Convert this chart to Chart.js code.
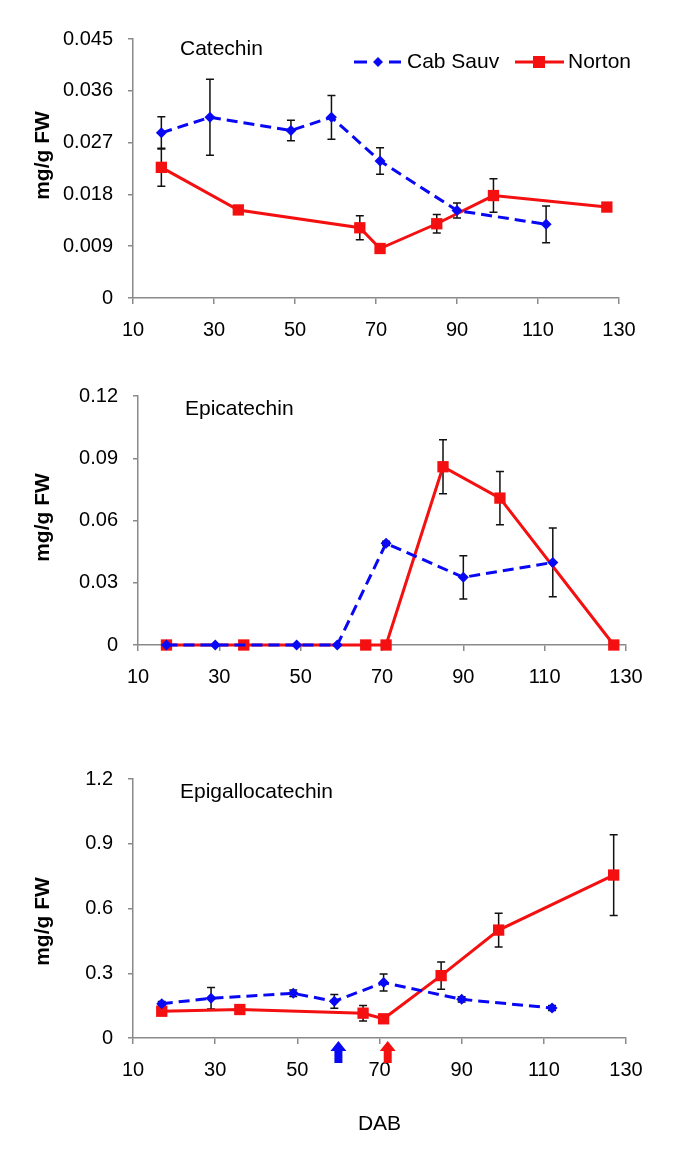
<!DOCTYPE html>
<html>
<head>
<meta charset="utf-8">
<script src="https://cdn.jsdelivr.net/npm/chart.js@4.4.0/dist/chart.umd.min.js"></script>
<style>
  body { margin: 0; background: #fff; }
  canvas { position: absolute; left: 0; }
</style>
</head>
<body>
<canvas id="c1" width="685" height="360" style="top:0px"></canvas>
<canvas id="c2" width="685" height="360" style="top:360px"></canvas>
<canvas id="c3" width="685" height="438" style="top:720px"></canvas>
<script>
// sampling days (days after bloom)
const dabCab = [17, 29, 49, 59, 71, 90, 112];
const dabNorton = [17, 36, 66, 71, 85, 99, 127];
const xTicks = [10, 30, 50, 70, 90, 110, 130];

// catechin, mg/g FW
const catCab = [0.0287, 0.0314, 0.0291, 0.0314, 0.0238, 0.0152, 0.0128];
const catCabErr = [0.0028, 0.0066, 0.0018, 0.0038, 0.0023, 0.0013, 0.0032];
const catNorton = [0.0227, 0.0153, 0.0122, 0.0086, 0.0129, 0.0178, 0.0158];
const catNortonErr = [0.0033, 0.0006, 0.0021, 0.0006, 0.0016, 0.0029, 0.0007];
const catTicks = [0, 0.009, 0.018, 0.027, 0.036, 0.045];

// epicatechin
const epiCab = [0, 0, 0, 0, 0.049, 0.0326, 0.0398];
const epiCabErr = [0, 0, 0, 0, 0.001, 0.0104, 0.0166];
const epiNorton = [0, 0, 0, 0, 0.0859, 0.0708, 0];
const epiNortonErr = [0, 0, 0, 0, 0.013, 0.0128, 0];
const epiTicks = [0, 0.03, 0.06, 0.09, 0.12];

// epigallocatechin
const egcCab = [0.159, 0.184, 0.207, 0.17, 0.257, 0.179, 0.139];
const egcCabErr = [0.01, 0.05, 0.015, 0.032, 0.039, 0.012, 0.012];
const egcNorton = [0.124, 0.132, 0.115, 0.089, 0.289, 0.5, 0.755];
const egcNortonErr = [0.008, 0.02, 0.036, 0.01, 0.063, 0.078, 0.187];
const egcTicks = [0, 0.3, 0.6, 0.9, 1.2];

// veraison arrows
const arrowDays = [60, 72];
const arrowColors = ['#0808f4', '#f41010'];

const BLUE = '#0808f4';
const RED = '#f41010';
const AXIS = '#8a8a8a';
const FONT = '"Liberation Sans", Arial, sans-serif';

Chart.defaults.font.family = FONT;
Chart.defaults.color = '#000';

const extras = {
  id: 'extras',
  // error bars go under the markers, like Excel
  beforeDatasetsDraw(chart) {
    const ctx = chart.ctx, xs = chart.scales.x, ys = chart.scales.y;
    ctx.save();
    ctx.strokeStyle = '#111';
    ctx.lineWidth = 1.5;
    chart.data.datasets.forEach(ds => {
      ds.data.forEach((p, i) => {
        const e = ds.err[i];
        if (!e) return;
        const x = xs.getPixelForValue(p.x);
        const y1 = ys.getPixelForValue(p.y + e);
        const y2 = ys.getPixelForValue(p.y - e);
        ctx.beginPath();
        ctx.moveTo(x, y1); ctx.lineTo(x, y2);
        ctx.moveTo(x - 4, y1); ctx.lineTo(x + 4, y1);
        ctx.moveTo(x - 4, y2); ctx.lineTo(x + 4, y2);
        ctx.stroke();
      });
    });
    ctx.restore();
  },
  afterDraw(chart, args, opts) {
    const ctx = chart.ctx, a = chart.chartArea;
    ctx.save();
    ctx.fillStyle = '#000';
    ctx.font = '21px ' + FONT;
    ctx.textBaseline = 'middle';
    ctx.fillText(opts.title, a.left + 47, a.top + opts.titleDy);

    // y axis title
    ctx.save();
    ctx.translate(43, (a.top + a.bottom) / 2 + opts.yTitleDy);
    ctx.rotate(-Math.PI / 2);
    ctx.textAlign = 'center';
    ctx.font = 'bold 21px ' + FONT;
    ctx.fillText('mg/g FW', 0, 0);
    ctx.restore();

    if (opts.legend) {
      const y = 62;
      ctx.strokeStyle = BLUE; ctx.lineWidth = 3;
      ctx.beginPath();
      ctx.moveTo(354, y); ctx.lineTo(367, y);
      ctx.moveTo(389, y); ctx.lineTo(401, y);
      ctx.stroke();
      ctx.fillStyle = BLUE;
      ctx.beginPath();
      ctx.moveTo(378, y - 5); ctx.lineTo(383, y); ctx.lineTo(378, y + 5); ctx.lineTo(373, y);
      ctx.fill();
      ctx.fillStyle = '#000';
      ctx.fillText('Cab Sauv', 407, y);
      ctx.strokeStyle = RED;
      ctx.beginPath(); ctx.moveTo(515, y); ctx.lineTo(564, y); ctx.stroke();
      ctx.fillStyle = RED;
      ctx.fillRect(533, y - 6, 12, 12);
      ctx.fillStyle = '#000';
      ctx.fillText('Norton', 568, y);
    }

    if (opts.arrows) {
      const xs = chart.scales.x, base = a.bottom + 3;
      arrowDays.forEach((d, i) => {
        const x = xs.getPixelForValue(d);
        ctx.fillStyle = arrowColors[i];
        ctx.beginPath();
        ctx.moveTo(x, base);
        ctx.lineTo(x + 8, base + 10);
        ctx.lineTo(x + 4, base + 10);
        ctx.lineTo(x + 4, base + 22);
        ctx.lineTo(x - 4, base + 22);
        ctx.lineTo(x - 4, base + 10);
        ctx.lineTo(x - 8, base + 10);
        ctx.closePath();
        ctx.fill();
      });
    }
    ctx.restore();
  }
};

function series(days, vals) {
  return days.map((d, i) => ({x: d, y: vals[i]}));
}

function makePanel(id, p) {
  const yMax = p.yTicks[p.yTicks.length - 1];
  return new Chart(document.getElementById(id), {
    type: 'line',
    data: {
      datasets: [{
        label: 'Cab Sauv',
        data: series(dabCab, p.cab),
        err: p.cabErr,
        borderColor: BLUE,
        backgroundColor: BLUE,
        borderWidth: 3,
        borderDash: [11, 6],
        pointStyle: 'rectRot',
        pointRadius: 5.5,
        pointBorderWidth: 0,
        tension: 0,
        clip: false
      }, {
        label: 'Norton',
        data: series(dabNorton, p.norton),
        err: p.nortonErr,
        borderColor: RED,
        backgroundColor: RED,
        borderWidth: 3,
        pointStyle: 'rect',
        pointRadius: 8,
        pointBorderWidth: 0,
        tension: 0,
        clip: false
      }]
    },
    options: {
      responsive: false,
      animation: false,
      layout: {padding: {left: 0, right: p.padRight, top: p.padTop, bottom: p.padBottom}},
      plugins: {
        legend: {display: false},
        tooltip: {enabled: false},
        extras: {title: p.title, titleDy: p.titleDy, yTitleDy: p.yTitleDy, legend: p.legend, arrows: p.arrows}
      },
      scales: {
        x: {
          type: 'linear',
          min: 10, max: 130,
          afterBuildTicks: s => { s.ticks = xTicks.map(v => ({value: v})); },
          afterFit: s => { s.height = p.xHeight; },
          grid: {drawOnChartArea: false, color: AXIS, lineWidth: 1.5, tickLength: 6},
          border: {color: AXIS, width: 1.5},
          ticks: {font: {size: 20}, padding: 14, maxRotation: 0},
          title: {display: !!p.xTitle, text: p.xTitle || '', font: {size: 21}, padding: {top: 0, bottom: 1}}
        },
        y: {
          min: 0, max: yMax,
          afterBuildTicks: s => { s.ticks = p.yTicks.map(v => ({value: v})); },
          afterFit: s => { s.width = p.yWidth; },
          grid: {drawOnChartArea: false, color: AXIS, lineWidth: 1.5, tickLength: 5},
          border: {color: AXIS, width: 1.5},
          ticks: {font: {size: 20}, padding: 15, callback: v => String(v)}
        }
      }
    },
    plugins: [extras]
  });
}

makePanel('c1', {
  title: 'Catechin', titleDy: 10, yTitleDy: -13, legend: true,
  cab: catCab, cabErr: catCabErr, norton: catNorton, nortonErr: catNortonErr,
  yTicks: catTicks, yWidth: 133, padRight: 66, padTop: 39, padBottom: 12, xHeight: 50
});
makePanel('c2', {
  title: 'Epicatechin', titleDy: 13, yTitleDy: -3,
  cab: epiCab, cabErr: epiCabErr, norton: epiNorton, nortonErr: epiNortonErr,
  yTicks: epiTicks, yWidth: 138, padRight: 59, padTop: 36, padBottom: 25, xHeight: 50
});
makePanel('c3', {
  title: 'Epigallocatechin', titleDy: 13, yTitleDy: 13, arrows: true, xTitle: 'DAB',
  cab: egcCab, cabErr: egcCabErr, norton: egcNorton, nortonErr: egcNortonErr,
  yTicks: egcTicks, yWidth: 133, padRight: 59, padTop: 59, padBottom: 20, xHeight: 100
});
</script>
</body>
</html>
